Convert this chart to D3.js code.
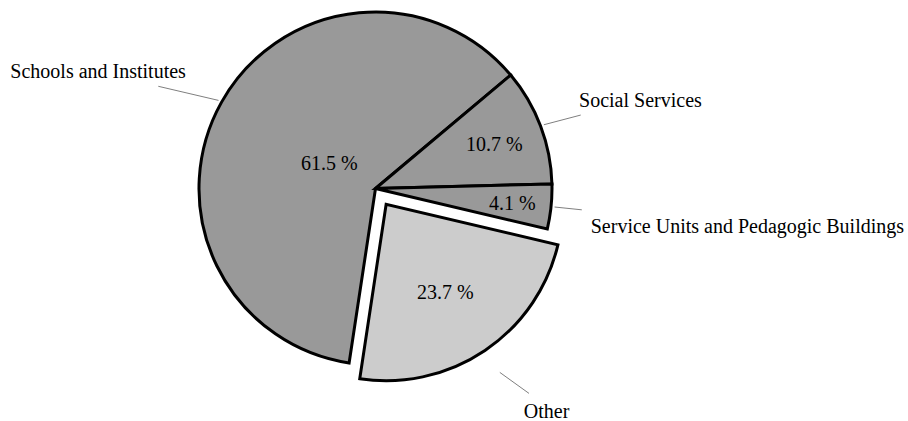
<!DOCTYPE html>
<html>
<head>
<meta charset="utf-8">
<script src="https://cdn.jsdelivr.net/npm/d3@7"></script>
<style>
  html, body { margin: 0; padding: 0; background: #ffffff; }
  svg { display: block; }
  text { font-family: "Liberation Serif", "Times New Roman", serif; font-size: 20px; fill: #000; }
</style>
</head>
<body>
<svg id="chart" width="908" height="421"></svg>
<script>
// Share of floor area by building use (percent)
const categories = [
  "Schools and Institutes",
  "Social Services",
  "Service Units and Pedagogic Buildings",
  "Other"
];
const shares = [61.5, 10.7, 4.1, 23.7];
const explodedFlags = [false, false, false, true];
const sliceFills = ["#999999", "#999999", "#999999", "#cccccc"];

// Label placement, as multiples of the radius and angle shifts (degrees) from each slice's mid angle
const labelLayout = [
  { pctR: 0.30, lineR0: 1.02, lineR1: 1.36, lineShift: -4.1, textR: 1.243, textShift: 0.9, anchor: "end" },
  { pctR: 0.72, lineR0: 1.02, lineR1: 1.235, lineShift: 1.05, textR: 1.242, textShift: -1.05, anchor: "start" },
  { pctR: 0.78, lineR0: 1.02, lineR1: 1.175, lineShift: 0.0, textR: 1.245, textShift: 5.7, anchor: "start" },
  { pctR: 0.60, lineR0: 1.15, lineR1: 1.343, lineShift: -3.0, textR: 1.441, textShift: 1.3, anchor: "start" }
];

const width = 908, height = 421;
const cx = 375.5, cy = 188.5, R = 176.5;
const explodeDist = 19;
const deg = Math.PI / 180;

const svg = d3.select("#chart");
const g = svg.append("g").attr("transform", `translate(${cx},${cy})`);

const pie = d3.pie()
  .sort(null)
  .value(d => d)
  .startAngle(-171.4 * deg)
  .endAngle((-171.4 + 360) * deg);

const arcs = pie(shares);
const arcGen = d3.arc().innerRadius(0).outerRadius(R);

// Point at angle a (d3 convention: 0 at 12 o'clock, clockwise) and radius r
const polar = (a, r) => [r * Math.sin(a), -r * Math.cos(a)];
const midAngle = d => (d.startAngle + d.endAngle) / 2;
const offsetOf = (d, i) => explodedFlags[i] ? polar(midAngle(d), explodeDist) : [0, 0];

const slices = g.selectAll("g.slice")
  .data(arcs)
  .join("g")
  .attr("class", "slice")
  .attr("transform", (d, i) => {
    const [ox, oy] = offsetOf(d, i);
    return `translate(${ox},${oy})`;
  });

slices.append("path")
  .attr("d", arcGen)
  .attr("fill", (d, i) => sliceFills[i])
  .attr("stroke", "#000")
  .attr("stroke-width", 3)
  .attr("stroke-linejoin", "miter");

// Percentage labels inside the slices
const fmt = d3.format(".1f");
slices.append("text")
  .attr("text-anchor", "middle")
  .attr("dominant-baseline", "central")
  .attr("x", (d, i) => polar(midAngle(d), labelLayout[i].pctR * R)[0])
  .attr("y", (d, i) => polar(midAngle(d), labelLayout[i].pctR * R)[1])
  .text(d => fmt(d.value) + " %");

// Leader lines
slices.append("line")
  .attr("x1", (d, i) => polar(midAngle(d), labelLayout[i].lineR0 * R)[0])
  .attr("y1", (d, i) => polar(midAngle(d), labelLayout[i].lineR0 * R)[1])
  .attr("x2", (d, i) => polar(midAngle(d) + labelLayout[i].lineShift * deg, labelLayout[i].lineR1 * R)[0])
  .attr("y2", (d, i) => polar(midAngle(d) + labelLayout[i].lineShift * deg, labelLayout[i].lineR1 * R)[1])
  .attr("stroke", "#7f7f7f")
  .attr("stroke-width", 1);

// Category names
slices.append("text")
  .attr("text-anchor", (d, i) => labelLayout[i].anchor)
  .attr("x", (d, i) => polar(midAngle(d) + labelLayout[i].textShift * deg, labelLayout[i].textR * R)[0])
  .attr("y", (d, i) => polar(midAngle(d) + labelLayout[i].textShift * deg, labelLayout[i].textR * R)[1])
  .text((d, i) => categories[i]);
</script>
</body>
</html>
